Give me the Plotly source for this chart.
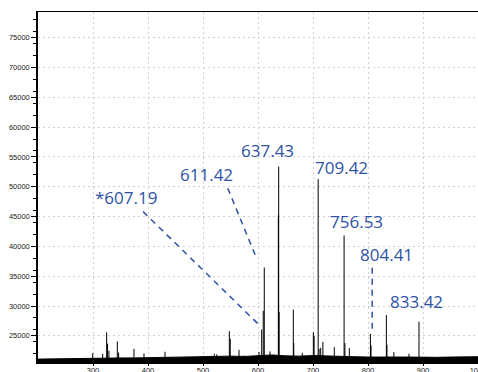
import plotly.graph_objects as go

# ---- data ----
peak_mz = [299.5, 317.6, 324.8, 326.5, 329.0, 344.2, 346.5, 374.5, 392.7, 430.9,
           520.5, 525.0, 547.9, 549.5, 565.5, 574.5, 601.8, 606.7, 609.5, 611.4,
           621.8, 637.0, 637.6, 638.4, 664.2, 665.0, 680.5, 700.6, 702.0, 709.4,
           711.0, 714.0, 718.0, 738.7, 756.5, 758.0, 766.0, 804.4, 805.5, 833.4,
           834.5, 847.0, 874.5, 892.7]
peak_int = [22100, 22000, 25600, 23700, 22500, 24050, 22200, 22830, 22050, 22330,
            22000, 21900, 25780, 24500, 22670, 21700, 22300, 26050, 29200, 36450,
            22400, 45200, 53380, 29000, 29400, 23800, 22170, 25600, 25000, 51280,
            22830, 23000, 24000, 23100, 41830, 23800, 22950, 25330, 23400, 28500,
            23500, 22280, 22000, 27380]

baseline_mz = [200, 225, 250, 275, 300, 325, 350, 375, 400, 425, 450, 475, 500,
               525, 550, 575, 600, 625, 650, 675, 700, 725, 750, 775, 800, 825,
               850, 875, 900, 925, 950, 975, 1000]
baseline_top = [21100, 21150, 21200, 21250, 21300, 21350, 21300, 21300, 21350,
                21300, 21350, 21400, 21450, 21500, 21600, 21550, 21700, 21800,
                21650, 21600, 21700, 21600, 21500, 21500, 21450, 21500, 21450,
                21450, 21400, 21400, 21450, 21450, 21500]

label_text = ["*607.19", "611.42", "637.43", "709.42", "756.53", "804.41", "833.42"]
label_x = [360, 506.5, 617.5, 752, 778.5, 833, 888.6]
label_y = [48130, 51990, 56010, 53160, 44110, 38580, 30700]

x_ticks = [300, 400, 500, 600, 700, 800, 900, 1000]
y_ticks = [25000, 30000, 35000, 40000, 45000, 50000, 55000, 60000, 65000, 70000, 75000]
BASE = 20500

# ---- build figure ----
xs, ys = [], []
for m, v in zip(peak_mz, peak_int):
    xs += [m, m, None]
    ys += [BASE, v, None]

fig = go.Figure()
fig.add_trace(go.Scatter(x=baseline_mz, y=baseline_top, mode="lines",
                         fill="tozeroy", fillcolor="black",
                         line=dict(color="black", width=1), hoverinfo="skip"))
fig.add_trace(go.Scatter(x=xs, y=ys, mode="lines",
                         line=dict(color="black", width=1), hoverinfo="skip"))

blue = "#2d52a5"
for t, x, y in zip(label_text, label_x, label_y):
    fig.add_annotation(x=x, y=y, xref="x", yref="y", text=t, showarrow=False,
                       font=dict(family="Open Sans", size=17, color=blue))

leaders = [((391, 45835), (602, 26844)),
           ((545, 49757), (598, 37856)),
           ((807.6, 36400), (807.6, 25500))]
for (x0, y0), (x1, y1) in leaders:
    fig.add_shape(type="line", x0=x0, y0=y0, x1=x1, y1=y1, xref="x", yref="y",
                  line=dict(color=blue, width=1.5, dash="6px,5px"))

tickfont = dict(family="Liberation Sans", size=7.5, color="#222")
fig.update_layout(
    width=478, height=372,
    margin=dict(l=38, r=0, t=12, b=9, autoexpand=False),
    plot_bgcolor="white", paper_bgcolor="white",
    showlegend=False,
    xaxis=dict(range=[200, 1000], tickmode="array", tickvals=x_ticks,
               ticktext=[str(v) for v in x_ticks], automargin=False,
               showgrid=True, gridcolor="#d0d0d0", griddash="2px,3px", gridwidth=1,
               showline=True, linecolor="black", linewidth=1, mirror=True,
               ticks="outside", ticklen=2, tickcolor="black",
               ticklabelstandoff=-2, ticklabeloverflow="allow",
               tickfont=tickfont, zeroline=False),
    yaxis=dict(range=[20450, 79300], tickmode="array", tickvals=y_ticks,
               ticktext=[str(v) for v in y_ticks], automargin=False,
               showgrid=True, gridcolor="#d0d0d0", griddash="2px,3px", gridwidth=1,
               showline=True, linecolor="black", linewidth=1.5,
               ticks="outside", ticklen=5, tickcolor="black",
               tickfont=tickfont, zeroline=False,
               minor=dict(ticks="outside", ticklen=3, tickmode="linear",
                          dtick=2000, tick0=0, tickcolor="black", showgrid=False)),
)

fig.write_html("out.html",
               config={"displayModeBar": False},
               post_script="document.body.style.margin='0';"
                           "document.body.style.overflow='hidden';")
